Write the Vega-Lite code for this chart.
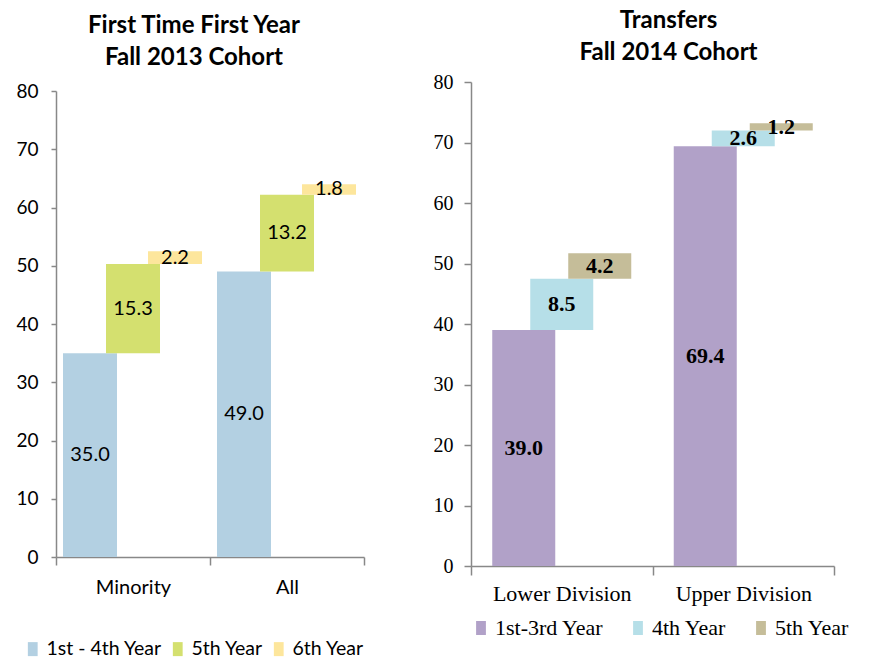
{
  "$schema": "https://vega.github.io/schema/vega-lite/v6.json",
  "background": "white",
  "padding": {"left": 15, "top": 9, "right": 5, "bottom": 0},
  "spacing": 107,
  "bounds": "flush",
  "center": true,
  "config": {"view": {"stroke": null}, "axis": {"grid": false}},
  "resolve": {"scale": {"color": "independent"}},
  "hconcat": [
    {
      "width": 308,
      "height": 466,
      "title": {"text": ["First Time First Year", "Fall 2013 Cohort"], "font": "Lato", "fontSize": 24, "fontWeight": "bold", "lineHeight": 32, "anchor": "middle", "frame": "group", "dx": -16, "offset": 12, "color": "black"},
      "data": {"values": [
        {"category": "Minority", "segment": "1st - 4th Year", "value": 35.0},
        {"category": "Minority", "segment": "5th Year", "value": 15.3},
        {"category": "Minority", "segment": "6th Year", "value": 2.2},
        {"category": "All", "segment": "1st - 4th Year", "value": 49.0},
        {"category": "All", "segment": "5th Year", "value": 13.2},
        {"category": "All", "segment": "6th Year", "value": 1.8}
      ]},
      "transform": [
        {"window": [{"op": "sum", "field": "value", "as": "end"}], "groupby": ["category"], "sort": [{"field": "segment"}]},
        {"calculate": "datum.end - datum.value", "as": "start"},
        {"calculate": "(datum.start + datum.end) / 2", "as": "mid"}
      ],
      "encoding": {
        "x": {"field": "category", "type": "nominal", "sort": ["Minority", "All"], "scale": {"paddingInner": 0, "paddingOuter": 0},
          "axis": {"title": null, "labelAngle": 0, "tickBand": "extent", "tickSize": 8, "tickColor": "#888", "tickWidth": 1.5, "domainColor": "#888", "domainWidth": 1.5, "labelFont": "Lato", "labelFontSize": 20, "labelColor": "black", "labelPadding": 12}},
        "y": {"field": "start", "type": "quantitative", "scale": {"domain": [0, 80]},
          "axis": {"title": null, "values": [0, 10, 20, 30, 40, 50, 60, 70, 80], "tickSize": 5, "tickColor": "#888", "tickWidth": 1.5, "domainColor": "#888", "domainWidth": 1.5, "labelFont": "Lato", "labelFontSize": 19, "labelColor": "black", "labelPadding": 13}},
        "y2": {"field": "end"},
        "color": {"field": "segment", "type": "nominal",
          "scale": {"domain": ["1st - 4th Year", "5th Year", "6th Year"], "range": ["#b3d0e2", "#d4e06f", "#fde69c"]},
          "legend": {"title": null, "orient": "none", "legendX": -33, "legendY": 548, "direction": "horizontal", "labelFont": "Lato", "labelFontSize": 19.5, "labelColor": "black", "symbolType": "M-0.7,-1H0.7V1H-0.7Z", "symbolSize": 196, "symbolStrokeWidth": 0, "columnPadding": 6, "labelOffset": 4}}
      },
      "layer": [
        {"transform": [{"filter": "datum.segment == '1st - 4th Year'"}], "mark": {"type": "bar", "width": 54, "xOffset": -43}},
        {"transform": [{"filter": "datum.segment == '5th Year'"}], "mark": {"type": "bar", "width": 54, "xOffset": 0}},
        {"transform": [{"filter": "datum.segment == '6th Year'"}], "mark": {"type": "bar", "width": 54, "xOffset": 42}},
        {"transform": [{"filter": "datum.segment == '1st - 4th Year'"}], "mark": {"type": "text", "font": "Lato", "fontSize": 20, "color": "black", "xOffset": -43},
          "encoding": {"y": {"field": "mid", "type": "quantitative"}, "y2": null, "color": null, "text": {"field": "value", "type": "quantitative", "format": ".1f"}}},
        {"transform": [{"filter": "datum.segment == '5th Year'"}], "mark": {"type": "text", "font": "Lato", "fontSize": 20, "color": "black", "xOffset": 0},
          "encoding": {"y": {"field": "mid", "type": "quantitative"}, "y2": null, "color": null, "text": {"field": "value", "type": "quantitative", "format": ".1f"}}},
        {"transform": [{"filter": "datum.segment == '6th Year'"}], "mark": {"type": "text", "font": "Lato", "fontSize": 20, "color": "black", "xOffset": 42},
          "encoding": {"y": {"field": "mid", "type": "quantitative"}, "y2": null, "color": null, "text": {"field": "value", "type": "quantitative", "format": ".1f"}}}
      ]
    },
    {
      "width": 363,
      "height": 484,
      "title": {"text": ["Transfers", "Fall 2014 Cohort"], "font": "Lato", "fontSize": 24, "fontWeight": "bold", "lineHeight": 32, "anchor": "middle", "frame": "group", "dx": 16, "offset": 7, "color": "black"},
      "data": {"values": [
        {"category": "Lower Division", "segment": "1st-3rd Year", "value": 39.0},
        {"category": "Lower Division", "segment": "4th Year", "value": 8.5},
        {"category": "Lower Division", "segment": "5th Year", "value": 4.2},
        {"category": "Upper Division", "segment": "1st-3rd Year", "value": 69.4},
        {"category": "Upper Division", "segment": "4th Year", "value": 2.6},
        {"category": "Upper Division", "segment": "5th Year", "value": 1.2}
      ]},
      "transform": [
        {"window": [{"op": "sum", "field": "value", "as": "end"}], "groupby": ["category"], "sort": [{"field": "segment"}]},
        {"calculate": "datum.end - datum.value", "as": "start"},
        {"calculate": "(datum.start + datum.end) / 2", "as": "mid"}
      ],
      "encoding": {
        "x": {"field": "category", "type": "nominal", "sort": ["Lower Division", "Upper Division"], "scale": {"paddingInner": 0, "paddingOuter": 0},
          "axis": {"title": null, "labelAngle": 0, "tickBand": "extent", "tickSize": 9, "tickColor": "#888", "tickWidth": 1.5, "domainColor": "#888", "domainWidth": 1.5, "labelFont": "Liberation Serif", "labelFontSize": 22, "labelColor": "black", "labelPadding": 8}},
        "y": {"field": "start", "type": "quantitative", "scale": {"domain": [0, 80]},
          "axis": {"title": null, "values": [0, 10, 20, 30, 40, 50, 60, 70, 80], "tickSize": 7, "tickColor": "#888", "tickWidth": 1.5, "domainColor": "#888", "domainWidth": 1.5, "labelFont": "Liberation Serif", "labelFontSize": 20, "labelColor": "black", "labelPadding": 11}},
        "y2": {"field": "end"},
        "color": {"field": "segment", "type": "nominal",
          "scale": {"domain": ["1st-3rd Year", "4th Year", "5th Year"], "range": ["#b1a1c8", "#b6dfe8", "#c5bd99"]},
          "legend": {"title": null, "orient": "none", "legendX": -1, "legendY": 535, "direction": "horizontal", "labelFont": "Liberation Serif", "labelFontSize": 22, "labelColor": "black", "symbolType": "M-0.7,-1H0.7V1H-0.7Z", "symbolSize": 196, "symbolStrokeWidth": 0, "columnPadding": 23, "labelOffset": 3}}
      },
      "layer": [
        {"transform": [{"filter": "datum.segment == '1st-3rd Year'"}], "mark": {"type": "bar", "width": 63, "xOffset": -38}},
        {"transform": [{"filter": "datum.segment == '4th Year'"}], "mark": {"type": "bar", "width": 63, "xOffset": 0}},
        {"transform": [{"filter": "datum.segment == '5th Year'"}], "mark": {"type": "bar", "width": 63, "xOffset": 38}},
        {"transform": [{"filter": "datum.segment == '1st-3rd Year'"}], "mark": {"type": "text", "font": "Liberation Serif", "fontSize": 22, "fontWeight": "bold", "color": "black", "xOffset": -38},
          "encoding": {"y": {"field": "mid", "type": "quantitative"}, "y2": null, "color": null, "text": {"field": "value", "type": "quantitative", "format": ".1f"}}},
        {"transform": [{"filter": "datum.segment == '4th Year'"}], "mark": {"type": "text", "font": "Liberation Serif", "fontSize": 22, "fontWeight": "bold", "color": "black", "xOffset": 0},
          "encoding": {"y": {"field": "mid", "type": "quantitative"}, "y2": null, "color": null, "text": {"field": "value", "type": "quantitative", "format": ".1f"}}},
        {"transform": [{"filter": "datum.segment == '5th Year'"}], "mark": {"type": "text", "font": "Liberation Serif", "fontSize": 22, "fontWeight": "bold", "color": "black", "xOffset": 38},
          "encoding": {"y": {"field": "mid", "type": "quantitative"}, "y2": null, "color": null, "text": {"field": "value", "type": "quantitative", "format": ".1f"}}}
      ]
    }
  ]
}
